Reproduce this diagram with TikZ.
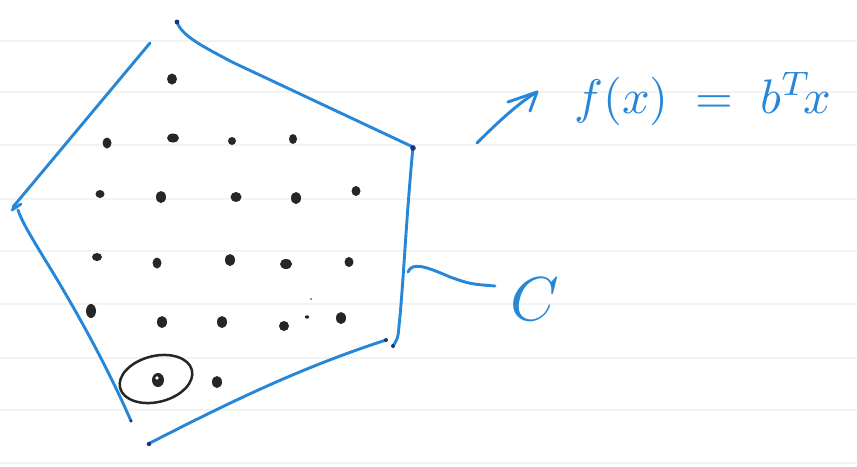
\documentclass[tikz,border=0pt]{standalone}
\usepackage{graphicx}
\usetikzlibrary{calc}
\definecolor{pen}{RGB}{38,134,216}
\definecolor{pendark}{RGB}{28,50,130}
\definecolor{rule}{RGB}{243,243,243}
\tikzset{
  edge/.style={draw=pen,line width=2.9pt,line cap=round,line join=round},
  ruled/.style={draw=rule,line width=1.2pt},
  dot/.style={fill=black!85},
  handtext/.style={text=pen,inner sep=0pt},
}
\begin{document}
\begin{tikzpicture}[x=1pt,y=-1pt]
\path[use as bounding box,fill=white] (0,0) rectangle (857,466);
% ruled paper lines
\foreach \yy in {41,92,145,199,251,304,358,410,463}
  \draw[ruled] (0,\yy) -- (857,\yy);

% polygon C (hand-drawn pentagon)
\draw[edge] (150,43) -- (13,207);
\draw[edge] (12,210) -- (21,204);
\draw[edge] (18,210) .. controls (22,222) and (32,238) .. (44,258)
  .. controls (75,308) and (108,368) .. (131,421);
\draw[edge] (148,444) .. controls (230,402) and (300,368) .. (386,340);
\draw[edge] (413,147) .. controls (406,220) and (403,290) .. (399,326)
  .. controls (398,338) .. (393,346);
\draw[edge] (177,22) .. controls (182,36) and (202,46) .. (232,62) -- (413,147);
% dark ink blobs at stroke ends
\fill[pendark] (177,22) circle (2.4pt);
\fill[pendark] (413,148) circle (2.8pt);
\fill[pendark] (393,346) circle (2pt);
\fill[pendark] (386,340) circle (2pt);
\fill[pendark] (149,444) circle (2.2pt);
\fill[pendark] (131,421) circle (1.7pt);

% lattice points
\foreach \px/\py/\rx/\ry in {
  172/79/5/5.5,
  107/143/4.5/5.5, 173/138/6/4.5, 232/141/4/4, 293/139/4/5,
  100/194/4.5/4, 161/197/5/6, 236/197/5.5/5, 296/198/5/6, 356/191/4.5/5,
  97/257/5/4, 157/263/4.5/5.5, 230/260/5/6, 286/264/6/5, 349/262/4.5/5,
  91/311/5/7, 162/322/5/6, 222/322/5/6, 284/326/5/5, 307/317/2.2/1.7, 341/318/5/6,
  311/299/1/0.8, 217/382/5/6}
  \fill[dot] (\px,\py) ellipse [x radius=\rx pt, y radius=\ry pt];

% circled optimal point
\fill[dot] (158,380) ellipse [x radius=6pt, y radius=7pt];
\fill[white] (157,378) circle (1.8pt);
\draw[black!85,line width=2.5pt,rotate around={14:(156,379)}]
  (156,379) ellipse [x radius=37pt, y radius=23pt];

% objective label and arrow
\node[handtext,anchor=base west] (fx) at (574,113)
  {\scalebox{4.85}{$f(x) \;=\; b^{T}\!x$}};
\coordinate (arrA) at (477,143);
\coordinate (arrB) at (537,92);
\draw[edge] (arrA) .. controls (500,120) and (520,102) .. (arrB);
\draw[edge] (arrB) -- ++(-29,10);
\draw[edge] (arrB) -- ++(-7,19);

% set label
\node[handtext,anchor=base] (C) at (535,320) {\scalebox{6.2}{$C$}};
\coordinate (sqA) at (408,272);
\coordinate (sqB) at (495,286);
\draw[edge] (sqA) .. controls (412,262) and (425,266) .. (450,277)
  .. controls (470,284) .. (sqB);
\end{tikzpicture}
\end{document}
